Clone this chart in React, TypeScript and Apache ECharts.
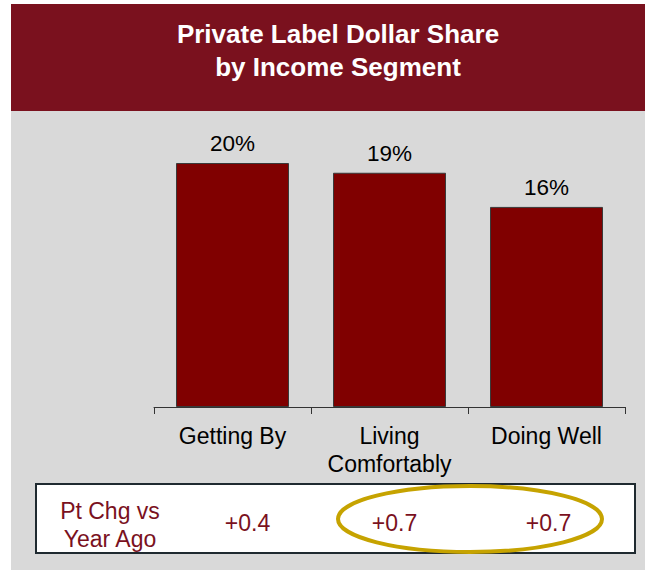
import React, { useEffect, useRef } from "react";
import * as echarts from "echarts";

const categories = ["Getting By", "Living\nComfortably", "Doing Well"];
const shareValues = [20.0, 19.2, 16.4];
const ptChange = ["+0.4", "+0.7", "+0.7"];
const titleLines = ["Private Label Dollar Share", "by Income Segment"];
const rowLabel = "Pt Chg vs\nYear Ago";

const FONT = "'Liberation Sans', Arial, sans-serif";
const MAROON = "#7a111e";
const ROW_NUDGE = [15, 5, 2];

export default function App() {
  const ref = useRef<HTMLDivElement>(null);
  useEffect(() => {
    if (!ref.current) return;
    const chart = echarts.init(ref.current, null, { renderer: "svg" });
    chart.setOption({
      animation: false,
      backgroundColor: "#ffffff",
      grid: { left: 154, right: 20, top: 102, bottom: 164 },
      xAxis: {
        type: "category",
        data: categories,
        axisLine: { show: true, lineStyle: { color: "#333333", width: 1 } },
        axisTick: { show: true, length: 7, lineStyle: { color: "#333333" } },
        axisLabel: {
          interval: 0,
          hideOverlap: false,
          fontFamily: FONT,
          fontSize: 23,
          color: "#000000",
          margin: 15,
          lineHeight: 28,
        },
        z: 5,
      },
      yAxis: {
        type: "value",
        min: 0,
        max: 25,
        show: false,
        splitLine: { show: false },
      },
      series: [
        {
          type: "bar",
          data: shareValues,
          barWidth: 113,
          itemStyle: { color: "#800000", borderColor: "#3a3a3a", borderWidth: 1 },
          label: {
            show: true,
            position: "top",
            distance: 8,
            fontFamily: FONT,
            fontSize: 22.5,
            color: "#000000",
            formatter: (p: any) => Math.round(p.value) + "%",
          },
          z: 3,
        },
      ],
    });

    const xs = categories.map((c) => chart.convertToPixel({ xAxisIndex: 0 }, c) as number);
    const rowY = 523;
    const graphic: any[] = [
      { type: "rect", z: -10, silent: true, shape: { x: 11, y: 111, width: 634, height: 459 }, style: { fill: "#d9d9d9" } },
      { type: "rect", z: -10, silent: true, shape: { x: 11, y: 4, width: 634, height: 107 }, style: { fill: MAROON } },
      {
        type: "text",
        x: 338,
        y: 50,
        style: {
          text: titleLines.join("\n"),
          fontFamily: FONT,
          fontSize: 26,
          fontWeight: "bold",
          lineHeight: 33,
          fill: "#ffffff",
          align: "center",
          verticalAlign: "middle",
        },
      },
      {
        type: "rect",
        shape: { x: 36, y: 484, width: 599, height: 69 },
        style: { fill: "#ffffff", stroke: "#1f2a30", lineWidth: 2 },
      },
      {
        type: "text",
        x: 110,
        y: rowY + 2,
        style: {
          text: rowLabel,
          fontFamily: FONT,
          fontSize: 23,
          lineHeight: 28,
          fill: MAROON,
          align: "center",
          verticalAlign: "middle",
        },
      },
      ...ptChange.map((t, i) => ({
        type: "text",
        x: xs[i] + ROW_NUDGE[i],
        y: rowY,
        style: {
          text: t,
          fontFamily: FONT,
          fontSize: 23,
          fill: MAROON,
          align: "center",
          verticalAlign: "middle",
        },
      })),
      {
        type: "ellipse",
        shape: { cx: 470, cy: 519, rx: 132, ry: 33 },
        style: { fill: "none", stroke: "#c6a300", lineWidth: 4 },
      },
    ];
    chart.setOption({ graphic });
    return () => chart.dispose();
  }, []);
  return (
    <div
      ref={ref}
      style={{ position: "fixed", left: 0, top: 0, width: 645, height: 571 }}
    />
  );
}
